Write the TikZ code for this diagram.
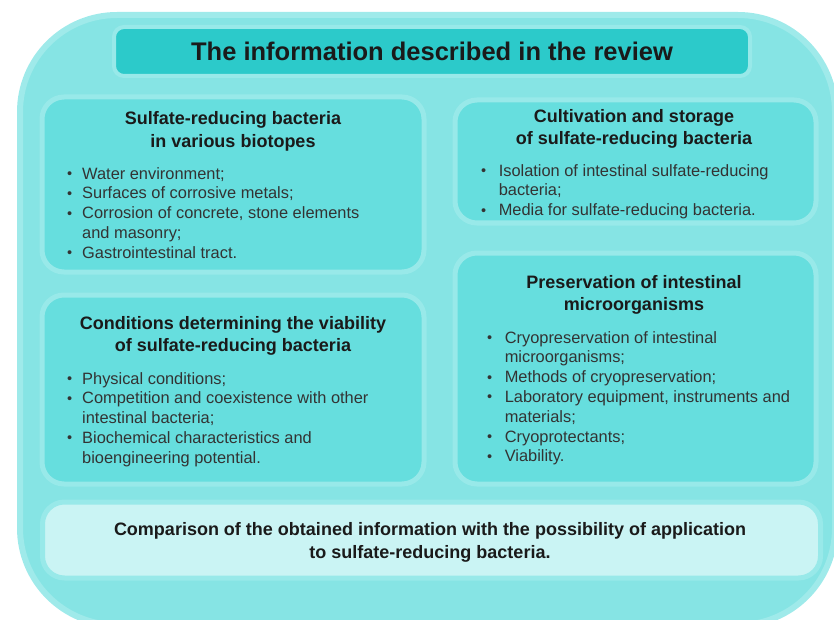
\documentclass[tikz,border=0pt]{standalone}
\usepackage{fontspec}
\setmainfont{Liberation Sans}
\usetikzlibrary{positioning}

\definecolor{outerfill}{HTML}{86E4E4}
\definecolor{outerrim}{HTML}{9FEAEA}
\definecolor{panelfill}{HTML}{66DEDE}
\definecolor{panelrim}{HTML}{98E9E9}
\definecolor{titlefill}{HTML}{2CCACA}
\definecolor{lowfill}{HTML}{CAF4F4}
\definecolor{inkdark}{HTML}{1A1A1A}
\definecolor{inklist}{HTML}{333333}

% bullet and continuation indent
\newcommand{\bul}[1][15pt]{\makebox[#1][l]{\raisebox{0.5pt}{\fontsize{14.5}{14}\selectfont\textbullet}}}
\newcommand{\cont}[1][15pt]{\hspace*{#1}}

\begin{document}
\begin{tikzpicture}[x=1pt,y=-1pt,
    panel/.style={rounded corners=22pt, fill=panelfill, draw=panelrim, line width=5pt, inner sep=0pt},
    heading/.style={font=\fontsize{18}{22.5}\selectfont\bfseries, align=center, text=inkdark, inner sep=0pt},
    items/.style={font=\fontsize{16.4}{19.8}\selectfont, align=left, text=inklist, inner sep=0pt, anchor=north west}]
  \useasboundingbox (0,0) rectangle (834,620);
  \clip (0,0) rectangle (834,620);

  % outer frame
  \node[rounded corners=97pt, fill=outerfill, draw=outerrim, line width=6pt,
        minimum width=815pt, minimum height=610pt, inner sep=0pt] (frame) at (427.5,320) {};

  % title
  \node[rounded corners=10pt, fill=titlefill, draw=panelrim, line width=4pt,
        minimum width=636pt, minimum height=49pt, inner sep=0pt] (titlebox) at (432,51.5) {};
  \node[font=\fontsize{25.5}{28}\selectfont\bfseries, text=inkdark, inner sep=0pt] (title) at (432,51) {The information described in the review};

  % panels
  \node[panel, minimum width=382pt, minimum height=175pt] (srb) at (233,184.5) {};
  \node[panel, minimum width=361pt, minimum height=123pt] (cult) at (635.5,161.5) {};
  \node[panel, minimum width=382pt, minimum height=189pt] (cond) at (233,389.5) {};
  \node[panel, minimum width=361pt, minimum height=231pt] (pres) at (635.5,368.5) {};
  \node[panel, fill=lowfill, minimum width=778pt, minimum height=76pt] (comp) at (431.5,540) {};

  % headings
  \node[heading] (srbhead) at (233,131.5) {Sulfate-reducing bacteria\\in various biotopes};
  \node[heading] (culthead) at (634,129) {Cultivation and storage\\of sulfate-reducing bacteria};
  \node[heading] (condhead) at (233,336) {Conditions determining the viability\\of sulfate-reducing bacteria};
  \node[heading] (preshead) at (634,295) {Preservation of intestinal\\microorganisms};
  \node[heading] (comptext) at (430,542.5) {Comparison of the obtained information with the possibility of application\\to sulfate-reducing bacteria.};

  % lists
  \node[items] (srblist) at (67,167) {\bul Water environment;\\\bul Surfaces of corrosive metals;\\\bul Corrosion of concrete, stone elements\\\cont and masonry;\\\bul Gastrointestinal tract.};
  \node[items] (cultlist) at (481,164) {\bul[13pt] Isolation of intestinal sulfate-reducing\\\cont[13pt] bacteria;\\\bul[13pt] Media for sulfate-reducing bacteria.};
  \node[items] (condlist) at (67,372) {\bul Physical conditions;\\\bul Competition and coexistence with other\\\cont intestinal bacteria;\\\bul Biochemical characteristics and\\\cont bioengineering potential.};
  \node[items] (preslist) at (487,331) {\bul[13pt] Cryopreservation of intestinal\\\cont[13pt] microorganisms;\\\bul[13pt] Methods of cryopreservation;\\\bul[13pt] Laboratory equipment, instruments and\\\cont[13pt] materials;\\\bul[13pt] Cryoprotectants;\\\bul[13pt] Viability.};
\end{tikzpicture}
\end{document}
